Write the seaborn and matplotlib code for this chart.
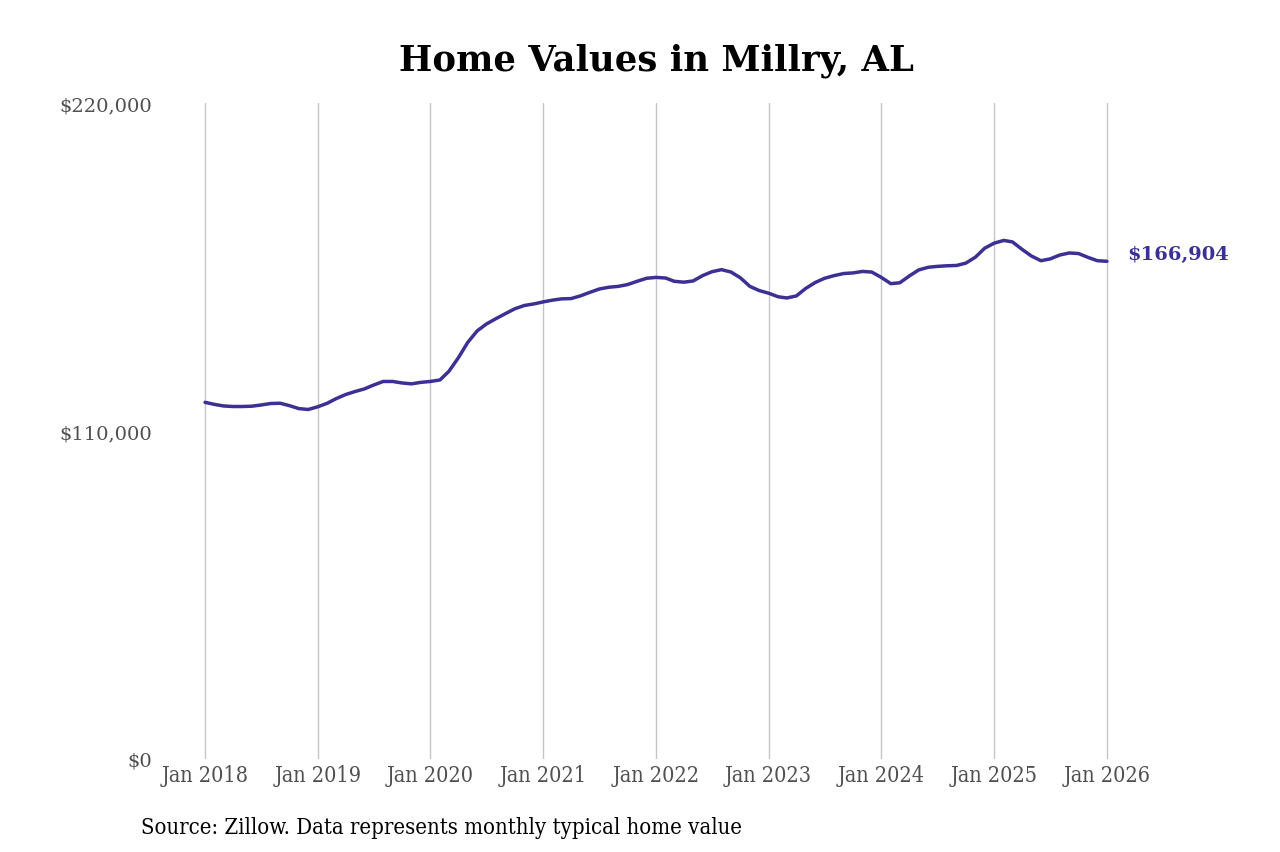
import numpy as np
import pandas as pd
import matplotlib.pyplot as plt
import seaborn as sns

# monthly typical home value, Jan 2018 .. Jan 2026
values_2018 = [119600, 118900, 118400, 118200, 118200, 118300, 118700, 119200, 119300, 118500, 117500, 117200]
values_2019 = [118100, 119300, 120800, 122200, 123200, 124100, 125400, 126600, 126600, 126100, 125800, 126300]
values_2020 = [126600, 127100, 130000, 134600, 139700, 143600, 145900, 147700, 149400, 151000, 152100, 152600]
values_2021 = [153300, 153900, 154300, 154400, 155300, 156500, 157600, 158200, 158500, 159100, 160200, 161200]
values_2022 = [161500, 161300, 160200, 159900, 160300, 162100, 163400, 164100, 163300, 161400, 158500, 157100]
values_2023 = [156200, 155000, 154600, 155300, 157800, 159800, 161200, 162100, 162800, 163000, 163500, 163300]
values_2024 = [161500, 159400, 159700, 162000, 164000, 164900, 165200, 165400, 165500, 166300, 168300, 171300]
values_2025 = [173000, 173900, 173400, 170900, 168700, 167100, 167700, 169000, 169700, 169500, 168200, 167100]
values_2026 = [166904]

tick_years = list(range(2018, 2027))
tick_labels = [f'Jan {y}' for y in tick_years]
y_ticks = [0, 110000, 220000]

values = (values_2018 + values_2019 + values_2020 + values_2021 + values_2022
          + values_2023 + values_2024 + values_2025 + values_2026)
df = pd.DataFrame({
    'date': pd.date_range('2018-01-01', periods=len(values), freq='MS'),
    'value': values,
})

line_color = '#3b3194'
label_gray = '#505050'

sns.set_style('white')
plt.rcParams['font.family'] = ['DejaVu Serif']

fig = plt.figure(figsize=(12.8, 8.53), dpi=100)
ax = fig.add_axes([0.125, 0.1091, 0.775, 0.769])

sns.lineplot(data=df, x='date', y='value', color=line_color, linewidth=2.5, ax=ax)

pad = pd.Timedelta(days=146)
ax.set_xlim(df['date'].iloc[0] - pad, df['date'].iloc[-1] + pad)
ax.set_ylim(0, 220000)

ax.set_xticks([pd.Timestamp(f'{y}-01-01') for y in tick_years], labels=tick_labels,
              fontsize=15.5, fontstretch='condensed', color=label_gray)
ax.set_yticks(y_ticks, labels=[f'${v:,.0f}' for v in y_ticks],
              fontsize=14, color=label_gray)

ax.grid(axis='x', color='#c6c6c6', linewidth=1)
ax.grid(axis='y', visible=False)
for s in ax.spines.values():
    s.set_visible(False)
ax.tick_params(axis='both', length=0)
ax.tick_params(axis='x', pad=4)
ax.tick_params(axis='y', pad=6)
ax.set_xlabel('')
ax.set_ylabel('')

# end-of-line value label, sits a little above the last point
last = df.iloc[-1]
ax.annotate(f"${last['value']:,.0f}", xy=(last['date'], last['value']),
            xytext=(14.4, 5.5), textcoords='offset points', va='center', ha='left',
            color=line_color, fontsize=14, fontweight='bold')

fig.text(0.513, 0.929, 'Home Values in Millry, AL', ha='center', va='center',
         fontsize=25.5, fontweight='bold', color='black')
fig.text(0.110, 0.029, 'Source: Zillow. Data represents monthly typical home value',
         ha='left', va='center', fontsize=15.8, color='black', fontstretch='condensed')

fig.savefig('out.png', dpi=100)
